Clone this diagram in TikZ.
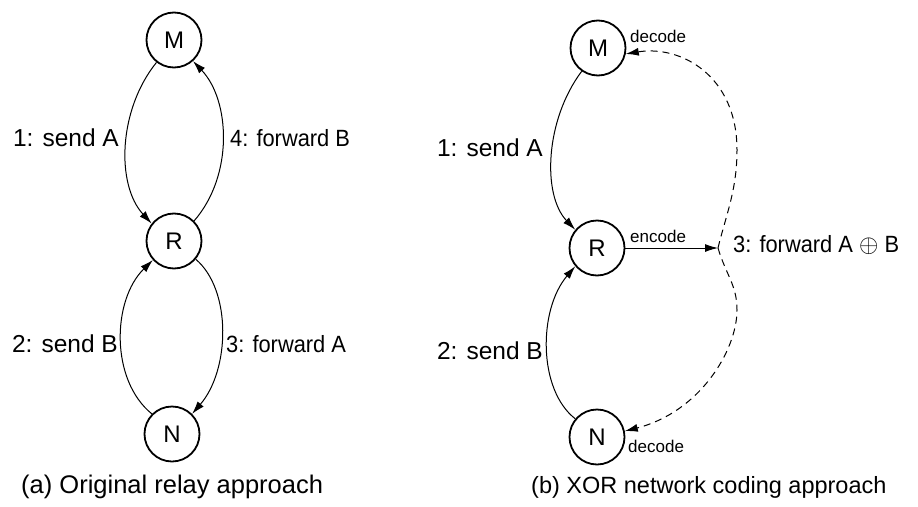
\documentclass[tikz,border=0pt]{standalone}
\usepackage{fontspec}
\setmainfont{Liberation Sans}
\newfontfamily\narrowsans[FakeStretch=0.93]{Liberation Sans}
\usetikzlibrary{arrows.meta}
\begin{document}
\begin{tikzpicture}[x=1pt,y=-1pt,
  station/.style={draw,circle,line width=1.8pt,minimum size=55pt,inner sep=0pt,font=\fontsize{24}{26}\selectfont},
  link/.style={line width=1pt,-{Latex[length=13pt,width=8pt]}},
  dlink/.style={line width=1pt,dash pattern=on 7pt off 5pt,-{Latex[length=13pt,width=8pt]}},
  lbl/.style={inner sep=0pt,font=\fontsize{24.5}{27}\selectfont},
  fwdlbl/.style={inner sep=0pt,font=\narrowsans\fontsize{23.5}{27}\selectfont},
  smalltext/.style={inner sep=0pt,font=\fontsize{17}{19}\selectfont},
  captext/.style={inner sep=0pt,font=\fontsize{24}{27}\selectfont}]
\useasboundingbox (0,0) rectangle (918,506);
% left panel
\node[station] (M1) at (174,40) {M};
\node[station] (R1) at (174,241) {R};
\node[station] (N1) at (172,434) {N};
\draw[link] (M1.232) .. controls (118,110) and (116,185) .. (R1.142);
\draw[link] (R1.45) .. controls (234,175) and (230,100) .. (M1.-48);
\draw[link] (R1.-40) .. controls (232,290) and (230,370) .. (N1.45);
\draw[link] (N1.135) .. controls (110,380) and (112,300) .. (R1.-138);
\node[lbl,anchor=east] (l1) at (119,138) {1: send A};
\node[fwdlbl,anchor=west] (l4) at (230,138) {4: forward B};
\node[lbl,anchor=east] (l2) at (118,344) {2: send B};
\node[fwdlbl,anchor=west] (l3) at (226,344) {3: forward A};
\node[captext,anchor=west,font=\fontsize{25.5}{28}\selectfont] (ca) at (21,487) {(a) Original relay approach};
% right panel
\node[station] (M2) at (598,48) {M};
\node[station] (R2) at (597,248) {R};
\node[station] (N2) at (597,437) {N};
\coordinate (J) at (718,248);
\coordinate (U) at (737,150);
\coordinate (D) at (737,310);
\draw[link] (M2.235) .. controls (545,120) and (542,195) .. (R2.140);
\draw[link] (N2.140) .. controls (538,390) and (538,310) .. (R2.-140);
\draw[link] (R2.east) -- (J);
\draw[dlink] (J) .. controls (726,215) and (737,190) .. (U) .. controls (737,75) and (680,45) .. (M2.-12);
\draw[dlink] (J) .. controls (726,275) and (737,285) .. (D) .. controls (737,350) and (700,412) .. (N2.12);
\node[lbl,anchor=east] (r1) at (543,148) {1: send A};
\node[lbl,anchor=east] (r2) at (543,351) {2: send B};
\node[smalltext,anchor=base west] (enc) at (630,242) {encode};
\node[smalltext,anchor=west] (dec1) at (630,36) {decode};
\node[smalltext,anchor=west] (dec2) at (628,446) {decode};
\node[fwdlbl,anchor=west] (r3) at (733,245) {3: forward A $\oplus$ B};
\node[captext,anchor=west,font=\fontsize{23.5}{27}\selectfont] (cb) at (531,487) {(b) XOR network coding approach};
\end{tikzpicture}
\end{document}
